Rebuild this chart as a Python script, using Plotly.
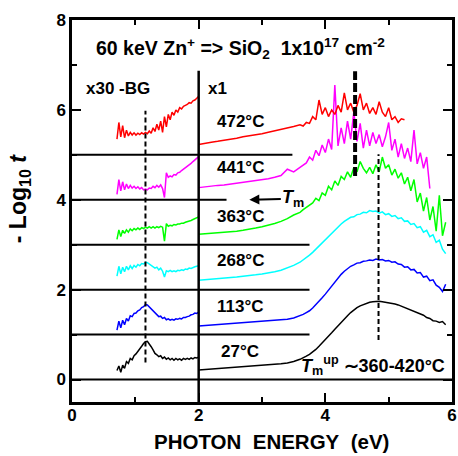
import plotly.graph_objects as go

# ---------------- data ----------------
# left panel (x30, -BG) energy grid
L_X = [0.71, 0.74, 0.77, 0.80, 0.83, 0.86, 0.89, 0.92, 0.95, 0.98, 1.01, 1.04, 1.07, 1.10,
       1.13, 1.16, 1.19, 1.22, 1.25, 1.28, 1.31, 1.34, 1.37, 1.40, 1.43, 1.46, 1.49, 1.52,
       1.55, 1.58, 1.61, 1.64, 1.67, 1.70, 1.73, 1.76, 1.79, 1.82, 1.85, 1.88, 1.91, 1.94,
       1.97, 2.00]

L_27 = [0.20, 0.30, 0.16, 0.32, 0.25, 0.40, 0.36, 0.47, 0.44, 0.53, 0.57, 0.62, 0.68, 0.74,
        0.80, 0.84, 0.85, 0.80, 0.73, 0.66, 0.58, 0.55, 0.51, 0.53, 0.47, 0.50, 0.45, 0.48,
        0.44, 0.47, 0.43, 0.47, 0.44, 0.46, 0.43, 0.47, 0.45, 0.47, 0.45, 0.48, 0.46, 0.49,
        0.48, 0.50]
L_113 = [1.10, 1.30, 1.15, 1.32, 1.22, 1.36, 1.30, 1.42, 1.40, 1.47, 1.48, 1.53, 1.55, 1.60,
         1.62, 1.67, 1.66, 1.62, 1.57, 1.52, 1.48, 1.45, 1.40, 1.41, 1.36, 1.38, 1.33, 1.35,
         1.32, 1.34, 1.32, 1.35, 1.34, 1.36, 1.35, 1.38, 1.38, 1.40, 1.41, 1.44, 1.45, 1.48,
         1.47, 1.50]
L_268 = [2.30, 2.52, 2.35, 2.50, 2.40, 2.52, 2.44, 2.53, 2.47, 2.54, 2.50, 2.56, 2.53, 2.58,
         2.57, 2.61, 2.60, 2.57, 2.55, 2.51, 2.48, 2.50, 2.44, 2.48, 2.41, 2.28, 2.42, 2.40,
         2.43, 2.40, 2.42, 2.40, 2.43, 2.42, 2.44, 2.43, 2.46, 2.45, 2.48, 2.47, 2.50, 2.51,
         2.52, 2.53]
L_363 = [3.12, 3.33, 3.18, 3.32, 3.25, 3.33, 3.28, 3.35, 3.31, 3.36, 3.33, 3.37, 3.34, 3.38,
         3.36, 3.39, 3.37, 3.40, 3.37, 3.40, 3.37, 3.40, 3.38, 3.41, 3.39, 3.08, 3.47, 3.41,
         3.43, 3.42, 3.45, 3.44, 3.46, 3.46, 3.48, 3.48, 3.50, 3.51, 3.53, 3.54, 3.56, 3.58,
         3.59, 3.62]
L_441 = [4.12, 4.45, 4.20, 4.40, 4.22, 4.35, 4.25, 4.32, 4.26, 4.30, 4.25, 4.29, 4.24, 4.27,
         4.22, 4.24, 4.22, 4.26, 4.25, 4.30, 4.27, 4.32, 4.28, 4.33, 4.25, 4.05, 4.60, 4.50,
         4.53, 4.51, 4.56, 4.55, 4.60, 4.61, 4.65, 4.68, 4.70, 4.74, 4.77, 4.81, 4.85, 4.89,
         4.93, 4.96]
L_472 = [5.35, 5.72, 5.40, 5.65, 5.38, 5.55, 5.42, 5.50, 5.44, 5.49, 5.44, 5.48, 5.45, 5.49,
         5.46, 5.50, 5.47, 5.53, 5.48, 5.60, 5.52, 5.68, 5.55, 5.75, 5.50, 5.85, 5.62, 5.90,
         5.78, 5.95, 5.88, 6.00, 5.95, 6.05, 6.02, 6.08, 6.10, 6.12, 6.16, 6.15, 6.20, 6.22,
         6.26, 6.30]

# right panel (x1) energy grid
R_X = [2.0, 2.1, 2.2, 2.3, 2.4, 2.5, 2.6, 2.7, 2.8, 2.9, 3.0, 3.1, 3.2, 3.3, 3.4, 3.5, 3.6,
       3.65, 3.7, 3.75, 3.8, 3.85, 3.9, 3.95, 4.0, 4.05, 4.1, 4.15, 4.2, 4.25, 4.3, 4.35,
       4.4, 4.45, 4.5, 4.55, 4.6, 4.65, 4.7, 4.75, 4.8, 4.85, 4.9, 4.95, 5.0, 5.05, 5.1,
       5.15, 5.2, 5.25, 5.3, 5.35, 5.4, 5.45, 5.5, 5.55, 5.6, 5.65, 5.7, 5.75, 5.8, 5.85, 5.9]

R_27 = [0.21, 0.22, 0.23, 0.24, 0.25, 0.26, 0.27, 0.28, 0.29, 0.30, 0.31, 0.32, 0.33, 0.35,
        0.37, 0.40, 0.45, 0.48, 0.52, 0.56, 0.61, 0.67, 0.74, 0.81, 0.88, 0.96, 1.04, 1.12,
        1.20, 1.28, 1.35, 1.42, 1.49, 1.55, 1.60, 1.64, 1.67, 1.70, 1.72, 1.73, 1.74, 1.74,
        1.73, 1.72, 1.71, 1.70, 1.68, 1.66, 1.63, 1.61, 1.58, 1.55, 1.52, 1.49, 1.46, 1.43,
        1.38, 1.36, 1.31, 1.30, 1.27, 1.29, 1.22]
R_113 = [1.19, 1.20, 1.21, 1.22, 1.23, 1.24, 1.25, 1.26, 1.27, 1.28, 1.29, 1.30, 1.31, 1.32,
         1.34, 1.37, 1.42, 1.45, 1.49, 1.53, 1.59, 1.66, 1.74, 1.82, 1.90, 1.99, 2.08, 2.17,
         2.26, 2.34, 2.41, 2.47, 2.52, 2.55, 2.59, 2.60, 2.63, 2.64, 2.66, 2.65, 2.68, 2.66,
         2.67, 2.64, 2.65, 2.61, 2.62, 2.57, 2.56, 2.50, 2.51, 2.44, 2.45, 2.37, 2.38, 2.28,
         2.30, 2.20, 2.22, 2.10, 2.05, 1.96, 2.12]
R_268 = [2.21, 2.22, 2.24, 2.25, 2.26, 2.27, 2.28, 2.30, 2.31, 2.33, 2.35, 2.37, 2.40, 2.43,
         2.48, 2.54, 2.61, 2.66, 2.71, 2.77, 2.83, 2.90, 2.97, 3.05, 3.13, 3.20, 3.27, 3.34,
         3.40, 3.46, 3.52, 3.56, 3.61, 3.62, 3.67, 3.68, 3.72, 3.71, 3.76, 3.74, 3.75, 3.70,
         3.73, 3.67, 3.69, 3.63, 3.65, 3.58, 3.60, 3.52, 3.53, 3.45, 3.47, 3.38, 3.40, 3.28,
         3.32, 3.18, 3.22, 3.05, 3.10, 2.90, 2.80]
R_363 = [3.23, 3.24, 3.25, 3.26, 3.27, 3.29, 3.30, 3.32, 3.34, 3.37, 3.40, 3.43, 3.47, 3.52,
         3.58, 3.66, 3.72, 3.78, 3.83, 3.88, 3.93, 4.03, 3.98, 4.15, 4.10, 4.30, 4.22, 4.42,
         4.32, 4.52, 4.45, 4.62, 4.50, 4.72, 4.62, 4.85, 4.70, 4.60, 4.72, 4.58, 4.78, 4.62,
         4.95, 4.70, 4.78, 4.55, 4.68, 4.48, 4.60, 4.35, 4.50, 4.20, 4.45, 3.95, 4.15, 3.75,
         4.05, 3.55, 3.85, 3.30, 4.10, 3.20, 3.50]
R_441 = [4.27, 4.29, 4.30, 4.32, 4.33, 4.35, 4.36, 4.38, 4.40, 4.42, 4.44, 4.47, 4.50, 4.54,
         4.68, 4.62, 4.72, 4.78, 4.82, 4.95, 4.88, 5.10, 4.98, 5.22, 5.05, 5.35, 5.12, 6.55,
         5.20, 5.60, 5.25, 5.75, 5.35, 5.95, 5.30, 5.70, 5.15, 5.55, 5.20, 5.50, 5.25, 5.45,
         5.18, 5.40, 5.72, 5.10, 5.35, 4.95, 5.25, 4.92, 5.15, 4.85, 5.55, 4.80, 5.05, 4.70,
         4.95, 4.25]
R_472 = [5.23, 5.26, 5.28, 5.30, 5.32, 5.35, 5.37, 5.40, 5.42, 5.45, 5.47, 5.50, 5.53, 5.56,
         5.60, 5.63, 5.67, 5.64, 5.72, 5.70, 5.85, 5.78, 6.22, 5.90, 6.05, 5.85, 6.00, 5.90,
         6.10, 5.95, 6.38, 6.00, 6.15, 5.95, 6.10, 6.36, 6.00, 6.15, 5.92, 6.05, 5.90, 6.18,
         5.95, 5.85, 6.05, 5.78, 5.85, 5.72, 5.80, 5.78]

SERIES = [
    ("27℃", L_27, R_27, "#000000"),
    ("113℃", L_113, R_113, "#0000ff"),
    ("268℃", L_268, R_268, "#00ffff"),
    ("363℃", L_363, R_363, "#00ff00"),
    ("441℃", L_441, R_441, "#ff00ff"),
    ("472℃", L_472, R_472, "#ff0000"),
]
TEMP_LABELS = ["27°C", "113°C", "268°C", "363°C", "441°C", "472°C"]

FONT = "Liberation Sans, Arial, sans-serif"

fig = go.Figure()
for name, ly, ry, col in SERIES:
    fig.add_trace(go.Scatter(x=L_X[:len(ly)], y=ly, mode="lines",
                             line=dict(color=col, width=1.5), showlegend=False, name=name))
    fig.add_trace(go.Scatter(x=R_X[:len(ry)], y=ry, mode="lines",
                             line=dict(color=col, width=1.5), showlegend=False, name=name))

shapes = []
def hline(y, x0, x1, w=2):
    shapes.append(dict(type="line", xref="x", yref="y", x0=x0, x1=x1, y0=y, y1=y,
                       line=dict(color="black", width=w)))
hline(0, 0, 6)
for yy in [1, 2, 3, 4, 5]:
    hline(yy, 0, 2)
for yy, xe in [(1, 3.75), (2, 3.75), (3, 3.75), (4, 2.44), (5, 3.48)]:
    hline(yy, 2, xe)
shapes.append(dict(type="line", xref="x", yref="y", x0=2, x1=2, y0=-0.5, y1=6.87,
                   line=dict(color="black", width=2.5)))
shapes.append(dict(type="line", xref="x", yref="y", x0=1.16, x1=1.16, y0=0.38, y1=5.98,
                   line=dict(color="black", width=2, dash="5px,3px")))
shapes.append(dict(type="line", xref="x", yref="y", x0=4.47, x1=4.47, y0=4.53, y1=6.86,
                   line=dict(color="black", width=4, dash="9px,3px")))
shapes.append(dict(type="line", xref="x", yref="y", x0=4.84, x1=4.84, y0=0.88, y1=5.01,
                   line=dict(color="black", width=2, dash="5px,3px")))

ann = []
def txt(x, y, s, size=17, xanchor="center", **kw):
    d = dict(x=x, y=y, xref="x", yref="y", text=s, showarrow=False, xanchor=xanchor,
             yanchor="middle", font=dict(family=FONT, size=size, color="black", weight="bold"))
    d.update(kw)
    ann.append(d)

txt(2.66, 7.37, "60 keV Zn<sup>+</sup> => SiO<sub>2</sub>\u00a0\u00a01x10<sup>17</sup> cm<sup>-2</sup>", size=19.5)
txt(0.72, 6.48, "x30 -BG", size=17)
txt(2.11, 6.48, "x1", size=17, xanchor="left")
for lab, yy in zip(TEMP_LABELS, [0.63, 1.63, 2.64, 3.62, 4.71, 5.75]):
    txt(2.66, yy, lab, size=17)
txt(5.92, 0.32, "<i>T</i><sub>m</sub><sup>up</sup> ∼360-420°C", size=18, xanchor="right")
ann.append(dict(x=2.8, y=4.0, xref="x", yref="y", text="<i>T</i><sub>m</sub>",
                showarrow=True, ax=44, ay=-1, arrowhead=2, arrowsize=1, arrowwidth=2,
                arrowcolor="black",
                font=dict(family=FONT, size=18, color="black", weight="bold")))
# axis titles
ann.append(dict(x=0.524, y=-0.104, xref="paper", yref="paper", showarrow=False,
                text="PHOTON\u00a0\u00a0ENERGY\u00a0\u00a0(eV)", xanchor="center", yanchor="middle",
                font=dict(family=FONT, size=20.5, color="black", weight="bold")))
ann.append(dict(x=-0.139, y=0.534, xref="paper", yref="paper", showarrow=False, textangle=-90,
                text="- Log<sub>10</sub> <i>t</i>", xanchor="center", yanchor="middle",
                font=dict(family=FONT, size=23, color="black", weight="bold")))

axis_common = dict(showline=True, linecolor="black", linewidth=2.5, mirror="ticks",
                   ticks="inside", ticklen=9, tickwidth=2, tickcolor="black",
                   showgrid=False, zeroline=False, automargin=False,
                   tickfont=dict(family=FONT, size=17, color="black", weight="bold"))
fig.update_layout(
    width=458, height=456,
    margin=dict(l=72, r=6, t=20, b=54, autoexpand=False),
    paper_bgcolor="white", plot_bgcolor="white",
    shapes=shapes, annotations=ann,
    xaxis=dict(range=[0, 6], tickvals=[0, 2, 4, 6], ticklabelstandoff=-4,
               minor=dict(tickvals=[1, 3, 5], ticks="inside", ticklen=5, tickwidth=2,
                          tickcolor="black"), **axis_common),
    yaxis=dict(range=[-0.5, 8], tickvals=[0, 2, 4, 6, 8],
               minor=dict(tickvals=[1, 3, 5, 7], ticks="inside", ticklen=5, tickwidth=2,
                          tickcolor="black"), **axis_common),
)
fig.write_html("out.html", config={"displayModeBar": False})
